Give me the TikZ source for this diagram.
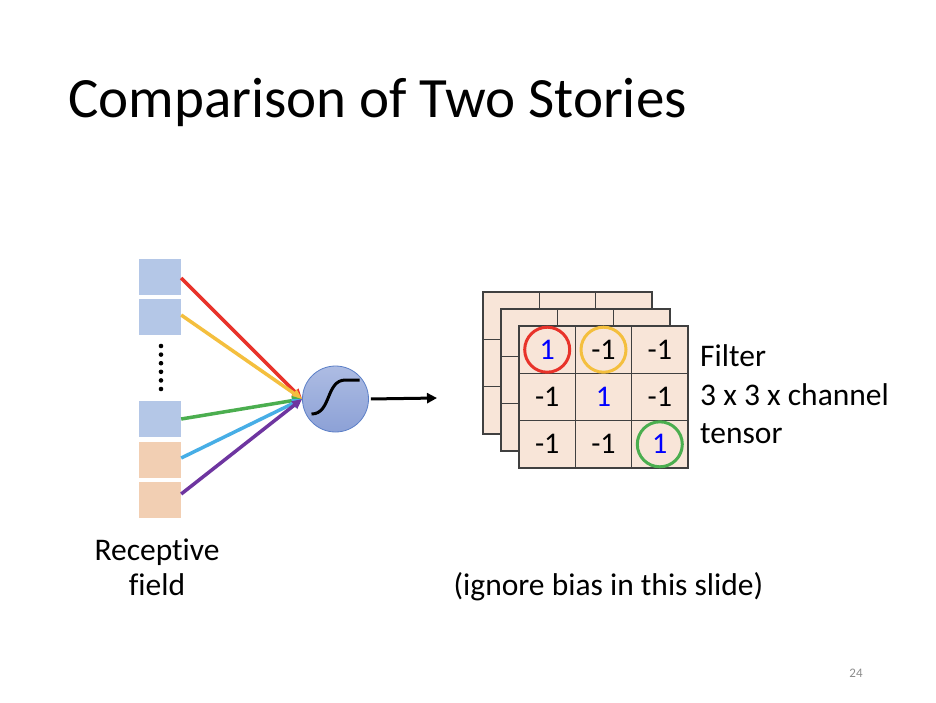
\documentclass[tikz,border=0pt]{standalone}
\usepackage{fontspec}
\setmainfont{Carlito}[Ligatures={NoCommon}]
\usetikzlibrary{arrows.meta}
\definecolor{sqblue}{HTML}{B4C7E7}
\definecolor{sqorange}{HTML}{F2CFB3}
\definecolor{cellfill}{HTML}{F8E5D8}
\definecolor{gridline}{HTML}{404040}
\definecolor{cred}{HTML}{E8332A}
\definecolor{cyellow}{HTML}{F4BF3E}
\definecolor{cgreen}{HTML}{4BAE4F}
\definecolor{cblue}{HTML}{47AEE6}
\definecolor{cpurple}{HTML}{6E35A0}
\definecolor{ntop}{HTML}{ADBCE3}
\definecolor{nbot}{HTML}{8CA1D6}
\definecolor{nborder}{HTML}{5B7FC7}
\definecolor{pgnum}{HTML}{8C8C8C}
\definecolor{one}{HTML}{0000FF}
\begin{document}
\begin{tikzpicture}[x=1pt,y=-1pt,
  body/.style={font=\fontsize{31.5}{38}\selectfont,inner sep=0pt},
  sq/.style={minimum width=42pt,minimum height=36pt,inner sep=0pt,draw=none},
  input/.style={line width=3.5pt,-{Triangle[length=10pt,width=9pt]}},
  cell/.style={draw=gridline,line width=1.1pt,fill=cellfill,minimum width=56.33pt,minimum height=47.33pt,inner sep=0pt,font=\fontsize{30}{36}\selectfont},
  ring/.style={circle,line width=3pt,minimum size=45pt,inner sep=0pt},
]
\useasboundingbox (0,0) rectangle (936,702);
\fill[white] (0,0) rectangle (936,702);

% title
\node[anchor=base west,inner sep=0pt,font=\fontsize{57}{68}\selectfont] (title) at (68,117) {Comparison of Two Stories};

% receptive field squares
\node[sq,fill=sqblue] (sq1) at (160,276.5) {};
\node[sq,fill=sqblue] (sq2) at (160,316.5) {};
\node[sq,fill=sqblue] (sq3) at (160,419) {};
\node[sq,fill=sqorange] (sq4) at (160,460) {};
\node[sq,fill=sqorange] (sq5) at (160,500) {};
\foreach \k in {0,...,5} \fill (161,{346+8.6*\k}) circle (2.3);

% neuron
\node[circle,minimum size=66pt,draw=nborder,line width=0.8pt,top color=ntop,bottom color=nbot,inner sep=0pt] (neuron) at (335.5,399) {};
\draw[line width=3pt] ([shift={(-24,15)}]neuron.center) .. controls +(20,0) and +(-20,0) .. ([shift={(10,-19)}]neuron.center) -- ++(14,0);

% inputs
\draw[input,cred] ([yshift=-1.5pt]sq1.east) -- (neuron.west);
\draw[input,cyellow] ([yshift=1.5pt]sq2.east) -- (neuron.west);
\draw[input,cgreen] (sq3.east) -- (neuron.west);
\draw[input,cblue] ([yshift=2pt]sq4.east) -- (neuron.west);
\draw[input,cpurple] ([yshift=6pt]sq5.east) -- (neuron.west);

% output arrow
\coordinate (out) at (437,398);
\draw[line width=3pt,-{Triangle[length=10pt,width=10pt]},shorten <=2pt] (neuron.east) -- (out);

% back layers
\foreach \dx/\dy/\nm in {0/0/b,18/17/m}{
  \foreach \i in {1,2,3}{
    \foreach \j in {1,2,3}{
      \node[cell] (\nm\i\j) at ({483+\dx+56.33*(\j-0.5)},{292+\dy+47.33*(\i-0.5)}) {};
    }
  }
}
% front layer
\node[cell] (c11) at (547.2,349.7) {\textcolor{one}{1}};
\node[cell] (c12) at (603.5,349.7) {-1};
\node[cell] (c13) at (659.8,349.7) {-1};
\node[cell] (c21) at (547.2,397.0) {-1};
\node[cell] (c22) at (603.5,397.0) {\textcolor{one}{1}};
\node[cell] (c23) at (659.8,397.0) {-1};
\node[cell] (c31) at (547.2,444.3) {-1};
\node[cell] (c32) at (603.5,444.3) {-1};
\node[cell] (c33) at (659.8,444.3) {\textcolor{one}{1}};
\node[ring,draw=cred] (r1) at (c11) {};
\node[ring,draw=cyellow] (r2) at (c12) {};
\node[ring,draw=cgreen] (r3) at (c33) {};

% labels
\node[body,anchor=base west] (f1) at (700,366) {Filter};
\node[body,anchor=base west] (f2) at (700,405) {3 x 3 x channel};
\node[body,anchor=base west] (f3) at (700,443) {tensor};
\node[body,anchor=base] (rf1) at (157,560) {Receptive};
\node[body,anchor=base] (rf2) at (157,595) {field};
\node[body,anchor=base] (bias) at (608.5,595) {(ignore bias in this slide)};
\node[anchor=base,inner sep=0pt,font=\fontsize{13}{15}\selectfont,text=pgnum] (pg) at (856,677) {24};
\end{tikzpicture}
\end{document}
